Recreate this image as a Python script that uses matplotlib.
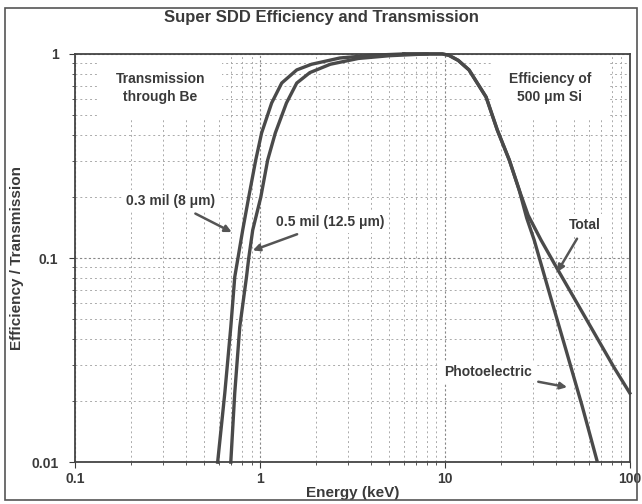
import numpy as np
import matplotlib.pyplot as plt
from matplotlib.patches import Rectangle

# Be window transmission
be_8um_energy = [0.59, 0.645, 0.695, 0.73, 0.76, 0.806, 0.869, 0.948, 1.02, 1.156, 1.31, 1.58, 1.9, 2.7, 4.0, 6.0]
be_8um_trans = [0.01, 0.0218, 0.0459, 0.0807, 0.1, 0.137, 0.199, 0.302, 0.41, 0.575, 0.72, 0.835, 0.89, 0.955, 0.985, 1.0]
be_12um_energy = [0.695, 0.73, 0.777, 0.845, 0.869, 0.913, 1.01, 1.10, 1.21, 1.39, 1.58, 1.86, 2.4, 3.4, 5.0, 8.0]
be_12um_trans = [0.01, 0.0218, 0.0459, 0.0807, 0.1, 0.137, 0.199, 0.302, 0.41, 0.575, 0.72, 0.81, 0.89, 0.95, 0.98, 1.0]

# 500 um Si efficiency, shared top part then the two tails
si_top_energy = [6.0, 9.68, 10.5, 11.8, 13.5, 16.7, 19.2, 22.3, 25.2]
si_top_eff = [1.0, 1.0, 0.985, 0.93, 0.835, 0.615, 0.424, 0.302, 0.216]
photo_tail_energy = [27.7, 30.4, 37.0, 45.2, 55.1, 66.4]
photo_tail_eff = [0.157, 0.1225, 0.0659, 0.0354, 0.0190, 0.0102]
total_tail_energy = [28.2, 33.1, 40.9, 57.3, 82.0, 100.0]
total_tail_eff = [0.162, 0.1225, 0.0873, 0.0514, 0.0292, 0.0218]

photo_energy = si_top_energy + photo_tail_energy
photo_eff = si_top_eff + photo_tail_eff
total_energy = si_top_energy + total_tail_energy
total_eff = si_top_eff + total_tail_eff

txt_col = '#3a3a3a'
line_col = '#4a4a4a'
plt.rcParams['font.family'] = ['Liberation Sans', 'DejaVu Sans']

fig = plt.figure(figsize=(6.42, 5.04), dpi=100)
fig.patches.append(Rectangle((0.008, 0.008), 0.984, 0.976, transform=fig.transFigure,
                             fill=False, edgecolor='#555555', linewidth=1.2))
ax = fig.add_axes([0.117, 0.083, 0.864, 0.810])

ax.plot(be_8um_energy, be_8um_trans, color=line_col, lw=2.4, clip_on=False, zorder=3)
ax.plot(be_12um_energy, be_12um_trans, color=line_col, lw=2.4, clip_on=False, zorder=3)
ax.plot(photo_energy, photo_eff, color=line_col, lw=2.4, clip_on=False, zorder=3)
ax.plot(total_energy, total_eff, color=line_col, lw=2.4, clip_on=False, zorder=3)

ax.set_xscale('log')
ax.set_yscale('log')
ax.set_xlim(0.1, 100)
ax.set_ylim(0.01, 1)
ax.set_xticks([0.1, 1, 10, 100])
ax.set_xticklabels(['0.1', '1', '10', '100'])
ax.set_yticks([0.01, 0.1, 1])
ax.set_yticklabels(['0.01', '0.1', '1'])
ax.tick_params(axis='x', which='major', labelsize=10, colors=txt_col, length=4, pad=3)
ax.tick_params(axis='y', which='major', labelsize=10, colors=txt_col, length=4, pad=8)
ax.tick_params(axis='both', which='minor', length=2, colors=txt_col)
for lab in ax.get_xticklabels() + ax.get_yticklabels():
    lab.set_fontweight('bold')
ax.set_axisbelow(True)
ax.grid(True, which='major', linestyle=(0, (2, 2)), color='#888888', lw=0.8)
ax.grid(True, which='minor', linestyle=(0, (2, 3)), color='#aaaaaa', lw=0.7)
for s in ax.spines.values():
    s.set_color('#444444')
    s.set_linewidth(1.3)
    s.set_zorder(4)

fig.text(0.5, 0.965, 'Super SDD Efficiency and Transmission', ha='center', va='center',
         fontsize=12, fontweight='bold', color=txt_col)
ax.set_xlabel('Energy (keV)', fontsize=11, fontweight='bold', color=txt_col, labelpad=0)
ax.set_ylabel('Efficiency / Transmission', fontsize=11, fontweight='bold', color=txt_col, labelpad=5)

# white boxes hide the grid but sit under the curves
box = dict(boxstyle='square,pad=1.2', facecolor='white', edgecolor='none')
ax.text(0.29, 0.68, 'Transmission\nthrough Be', ha='center', va='center', fontsize=10,
        fontweight='bold', color=txt_col, bbox=box, linespacing=1.3, zorder=2)
ax.text(37.0, 0.68, 'Efficiency of\n500 \u03bcm Si', ha='center', va='center', fontsize=10,
        fontweight='bold', color=txt_col, bbox=box, linespacing=1.3, zorder=2)

small = dict(boxstyle='square,pad=0.3', facecolor='white', edgecolor='none')
arrow = dict(arrowstyle='-|>', color='#555555', lw=1.8, mutation_scale=10, shrinkA=2, shrinkB=0)
ax.annotate('0.3 mil (8 \u03bcm)', xy=(0.703, 0.134), xytext=(0.33, 0.19), ha='center', va='center',
            fontsize=10, fontweight='bold', color=txt_col, bbox=small, arrowprops=arrow, zorder=5)
ax.annotate('0.5 mil (12.5 \u03bcm)', xy=(0.914, 0.109), xytext=(2.4, 0.15), ha='center', va='center',
            fontsize=10, fontweight='bold', color=txt_col, bbox=small, arrowprops=arrow, zorder=5)
ax.annotate('Total', xy=(40.5, 0.0854), xytext=(57.3, 0.145), ha='center', va='center',
            fontsize=10, fontweight='bold', color=txt_col, bbox=small, arrowprops=arrow, zorder=5)
ax.annotate('Photoelectric', xy=(45.8, 0.0233), xytext=(17.0, 0.0276), ha='center', va='center',
            fontsize=10, fontweight='bold', color=txt_col, bbox=small, arrowprops=arrow, zorder=5)

plt.savefig('out.png', dpi=100)
